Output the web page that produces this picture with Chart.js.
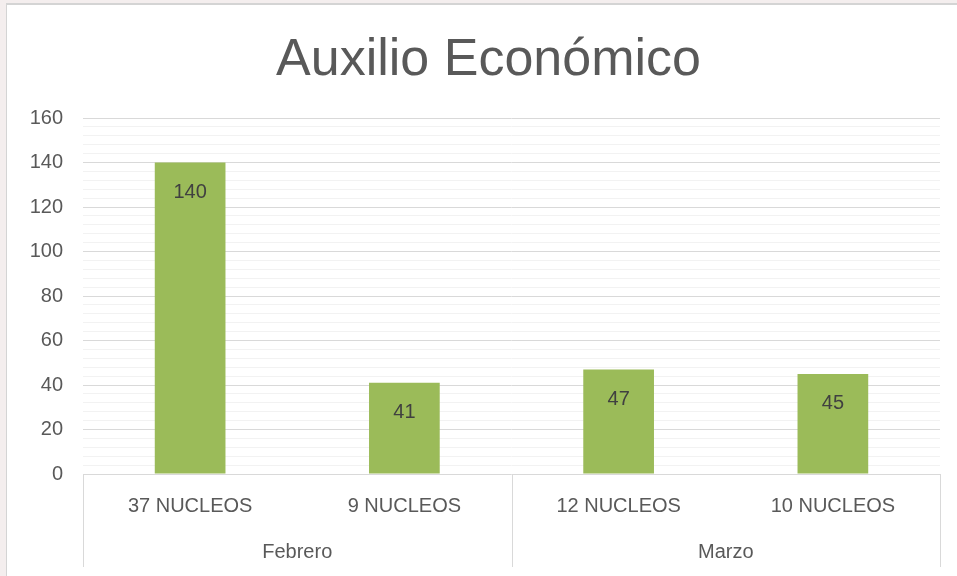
<!DOCTYPE html>
<html>
<head>
<meta charset="utf-8">
<script src="https://cdn.jsdelivr.net/npm/chart.js@4/dist/chart.umd.min.js"></script>
<style>
  html, body { margin: 0; padding: 0; background: #f4eeee; overflow: hidden; }
  #box {
    position: absolute; left: 6px; top: 3px; width: 951px; height: 573px;
    background: #fff; border-left: 1px solid #d4d4d4; border-top: 2px solid #d4d4d4;
  }
  canvas { display: block; }
</style>
</head>
<body>
<div id="box"><canvas id="chart" width="950" height="571"></canvas></div>
<script>
const categories = ["37 NUCLEOS", "9 NUCLEOS", "12 NUCLEOS", "10 NUCLEOS"];
const values = [140, 41, 47, 45];
const groups = ["Febrero", "Marzo"];
const groupSizes = [2, 2];
const title = "Auxilio Económico";

const FONT = "'Liberation Sans', Arial, sans-serif";
const GREY = "#595959";
const LINE = "#d9d9d9";

// title, value labels, category and group labels with separators
const decorations = {
  id: "decorations",
  afterDatasetsDraw(chart) {
    const { ctx, chartArea, scales } = chart;
    const x = scales.x;
    ctx.save();
    ctx.textAlign = "center";
    ctx.textBaseline = "middle";

    ctx.fillStyle = GREY;
    ctx.font = `52px ${FONT}`;
    ctx.fillText(title, (chartArea.left + chartArea.right) / 2 - 23, 56);

    // numbers inside the bars
    const meta = chart.getDatasetMeta(0);
    ctx.fillStyle = "#404040";
    ctx.font = `20px ${FONT}`;
    meta.data.forEach((bar, i) => {
      ctx.fillText(String(values[i]), bar.x, bar.y + 30);
    });

    // category labels
    ctx.fillStyle = GREY;
    ctx.font = `20px ${FONT}`;
    categories.forEach((c, i) => {
      ctx.fillText(c, x.getPixelForValue(i), chartArea.bottom + 32);
    });

    // group labels and separators
    const step = (chartArea.right - chartArea.left) / categories.length;
    const bottom = chartArea.bottom + 93;
    ctx.strokeStyle = LINE;
    ctx.lineWidth = 1;
    let start = 0;
    const sep = (px) => {
      ctx.beginPath();
      ctx.moveTo(Math.round(px) + 0.5, chartArea.bottom);
      ctx.lineTo(Math.round(px) + 0.5, bottom);
      ctx.stroke();
    };
    sep(chartArea.left);
    groups.forEach((g, gi) => {
      const end = start + groupSizes[gi];
      const left = chartArea.left + start * step;
      const right = chartArea.left + end * step;
      ctx.fillText(g, (left + right) / 2, chartArea.bottom + 78);
      sep(right);
      start = end;
    });
    ctx.restore();
  }
};

new Chart(document.getElementById("chart"), {
  type: "bar",
  data: {
    labels: categories,
    datasets: [{
      data: values,
      backgroundColor: "#9bbb59",
      borderWidth: 0,
      categoryPercentage: 1,
      barPercentage: 0.33
    }]
  },
  options: {
    responsive: false,
    animation: false,
    layout: { padding: { top: 113, right: 17, left: 0, bottom: 0 } },
    plugins: { legend: { display: false }, tooltip: { enabled: false } },
    scales: {
      x: {
        ticks: { display: false },
        grid: { display: false },
        border: { display: false },
        afterFit(s) { s.height = 102; }
      },
      y: {
        min: 0,
        max: 160,
        afterFit(s) { s.width = 76; },
        border: { display: false },
        grid: {
          drawTicks: false,
          color: (c) => (c.tick.value % 20 === 0 ? LINE : "#f2f2f2")
        },
        ticks: {
          stepSize: 4,
          autoSkip: false,
          padding: 20,
          color: GREY,
          font: { family: FONT, size: 20 },
          callback: (v) => (v % 20 === 0 ? v : "")
        }
      }
    }
  },
  plugins: [decorations]
});
</script>
</body>
</html>
